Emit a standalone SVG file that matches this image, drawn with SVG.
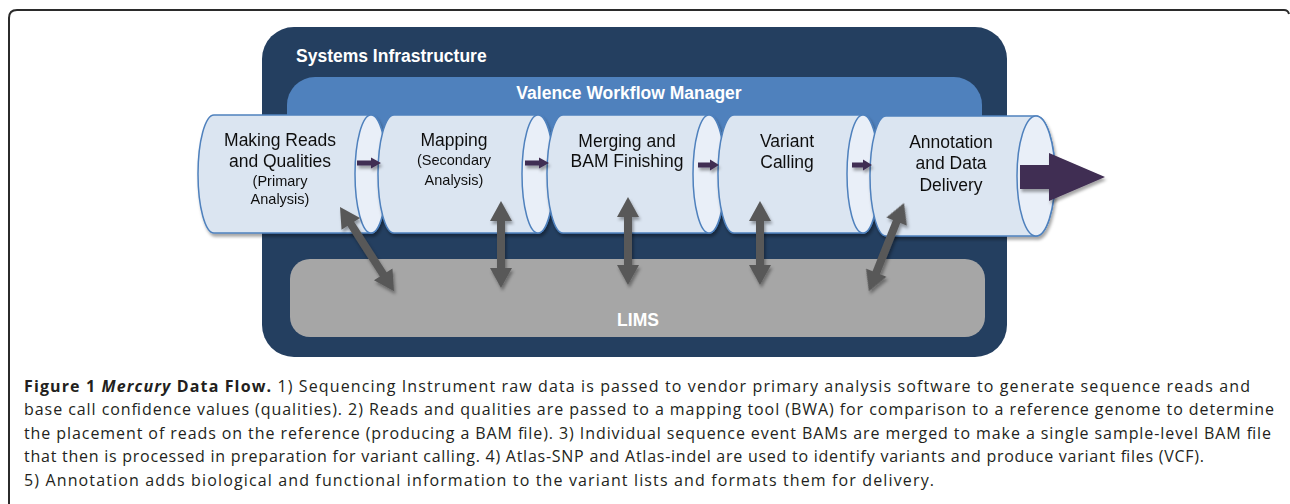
<svg xmlns="http://www.w3.org/2000/svg" width="1290" height="504" viewBox="0 0 1290 504">
<defs>
<style>
.frame{fill:none;stroke:#2b2b2b;stroke-width:2}
.infra{fill:#243f60}
.wfm{fill:#4f81bd}
.lims{fill:#a6a6a6}
.title{font-family:"Liberation Sans",Arial,sans-serif;font-weight:bold;font-size:17.5px;fill:#ffffff}
.body{fill:#dbe5f1;stroke:#4f81bd;stroke-width:1.5}
.end{fill:#e9eff8;stroke:#4f81bd;stroke-width:1.5}
.lbl{font-family:"Liberation Sans",Arial,sans-serif;font-size:17.5px;fill:#111;text-anchor:middle}
.sub{font-family:"Liberation Sans",Arial,sans-serif;font-size:14.5px;fill:#111;text-anchor:middle}
.flow{fill:#3f2d52}
.dbl{fill:#595959}
.cap{font-family:"Open Sans","Liberation Sans",sans-serif;font-size:16px;fill:#231f20}
</style>
<filter id="sh" x="-10%" y="-10%" width="130%" height="140%">
<feDropShadow dx="1.5" dy="3" stdDeviation="1.5" flood-color="#000" flood-opacity="0.35"/>
</filter>
</defs>

<path class="frame" d="M9,504 V18 Q9,10 17,10 H1284 Q1288,10 1289,14"/>

<g id="systems-infrastructure">
<rect class="infra" x="262" y="27" width="745" height="330" rx="32" ry="32"/>
<text class="title" x="296" y="62">Systems Infrastructure</text>
</g>

<g id="valence-workflow-manager">
<rect class="wfm" x="287" y="77" width="695" height="130" rx="28" ry="28"/>
<text class="title" x="629" y="99" text-anchor="middle">Valence Workflow Manager</text>
</g>

<g id="lims">
<rect class="lims" x="290" y="259" width="695" height="78" rx="20" ry="20"/>
<text class="title" x="638" y="326" text-anchor="middle" font-size="17px">LIMS</text>
</g>

<g id="making-reads" filter="url(#sh)">
<path class="body" d="M214,115 H371 A16,59 0 0 1 371,233 H214 A16,59 0 0 1 214,115 Z"/>
<ellipse class="end" cx="371" cy="174" rx="16" ry="59"/>
<text class="lbl" x="280" y="146">Making Reads</text>
<text class="lbl" x="280" y="167">and Qualities</text>
<text class="sub" x="280" y="186">(Primary</text>
<text class="sub" x="280" y="204">Analysis)</text>
</g>

<g id="mapping" filter="url(#sh)">
<path class="body" d="M394,115 H538 A16,59 0 0 1 538,233 H394 A16,59 0 0 1 394,115 Z"/>
<ellipse class="end" cx="538" cy="174" rx="16" ry="59"/>
<text class="lbl" x="454" y="146">Mapping</text>
<text class="sub" x="454" y="165">(Secondary</text>
<text class="sub" x="454" y="185">Analysis)</text>
</g>

<g id="merging" filter="url(#sh)">
<path class="body" d="M563,115 H709 A16,59 0 0 1 709,233 H563 A16,59 0 0 1 563,115 Z"/>
<ellipse class="end" cx="709" cy="174" rx="16" ry="59"/>
<text class="lbl" x="627" y="147">Merging and</text>
<text class="lbl" x="627" y="167">BAM Finishing</text>
</g>

<g id="variant-calling" filter="url(#sh)">
<path class="body" d="M734,115 H863 A16,59 0 0 1 863,233 H734 A16,59 0 0 1 734,115 Z"/>
<ellipse class="end" cx="863" cy="174" rx="16" ry="59"/>
<text class="lbl" x="787" y="147">Variant</text>
<text class="lbl" x="787" y="168">Calling</text>
</g>

<g id="annotation" filter="url(#sh)">
<path class="body" d="M886,116 H1036 A19,60 0 0 1 1036,236 H886 A16,60 0 0 1 886,116 Z"/>
<ellipse class="end" cx="1036" cy="176" rx="19" ry="60"/>
<text class="lbl" x="951" y="148">Annotation</text>
<text class="lbl" x="951" y="169">and Data</text>
<text class="lbl" x="951" y="191">Delivery</text>
</g>

<g id="connectors">
<g filter="url(#sh)">
<path class="flow" d="M357,160.5 H371 V157.5 L381,163 L371,168.5 V165.5 H357 Z"/>
<path class="flow" d="M525,160.5 H539 V157.5 L549,163 L539,168.5 V165.5 H525 Z"/>
<path class="flow" d="M698,162.5 H710 V159.5 L719,165 L710,170.5 V167.5 H698 Z"/>
<path class="flow" d="M852,162.5 H863 V159.5 L872,165 L863,170.5 V167.5 H852 Z"/>
<path class="flow" d="M1020,165 H1049 V153 L1105,177 L1049,201 V189 H1020 Z"/>
</g>
<g filter="url(#sh)">
<path class="dbl" transform="translate(340,207) rotate(-32.7)" d="M0,0 L11,20 L4,20 L4,80 L11,80 L0,100 L-11,80 L-4,80 L-4,20 L-11,20 Z"/>
<path class="dbl" transform="translate(501,201)" d="M0,0 L11,20 L4,20 L4,67 L11,67 L0,87 L-11,67 L-4,67 L-4,20 L-11,20 Z"/>
<path class="dbl" transform="translate(628,197)" d="M0,0 L11,20 L4,20 L4,68 L11,68 L0,88 L-11,68 L-4,68 L-4,20 L-11,20 Z"/>
<path class="dbl" transform="translate(760,201)" d="M0,0 L11,20 L4,20 L4,64 L11,64 L0,84 L-11,64 L-4,64 L-4,20 L-11,20 Z"/>
<path class="dbl" transform="translate(904,203) rotate(21.7)" d="M0,0 L11,20 L4,20 L4,75 L11,75 L0,95 L-11,75 L-4,75 L-4,20 L-11,20 Z"/>
</g>
</g>

<g id="caption">
<text class="cap" x="24" y="392" textLength="1226" lengthAdjust="spacing"><tspan font-weight="bold">Figure 1 </tspan><tspan font-weight="bold" font-style="italic">Mercury</tspan><tspan font-weight="bold"> Data Flow.</tspan> 1) Sequencing Instrument raw data is passed to vendor primary analysis software to generate sequence reads and</text>
<text class="cap" x="24" y="415" textLength="1250" lengthAdjust="spacing">base call confidence values (qualities). 2) Reads and qualities are passed to a mapping tool (BWA) for comparison to a reference genome to determine</text>
<text class="cap" x="24" y="439" textLength="1247" lengthAdjust="spacing">the placement of reads on the reference (producing a BAM file). 3) Individual sequence event BAMs are merged to make a single sample-level BAM file</text>
<text class="cap" x="24" y="462" textLength="1180" lengthAdjust="spacing">that then is processed in preparation for variant calling. 4) Atlas-SNP and Atlas-indel are used to identify variants and produce variant files (VCF).</text>
<text class="cap" x="24" y="486" textLength="910" lengthAdjust="spacing">5) Annotation adds biological and functional information to the variant lists and formats them for delivery.</text>
</g>
</svg>
